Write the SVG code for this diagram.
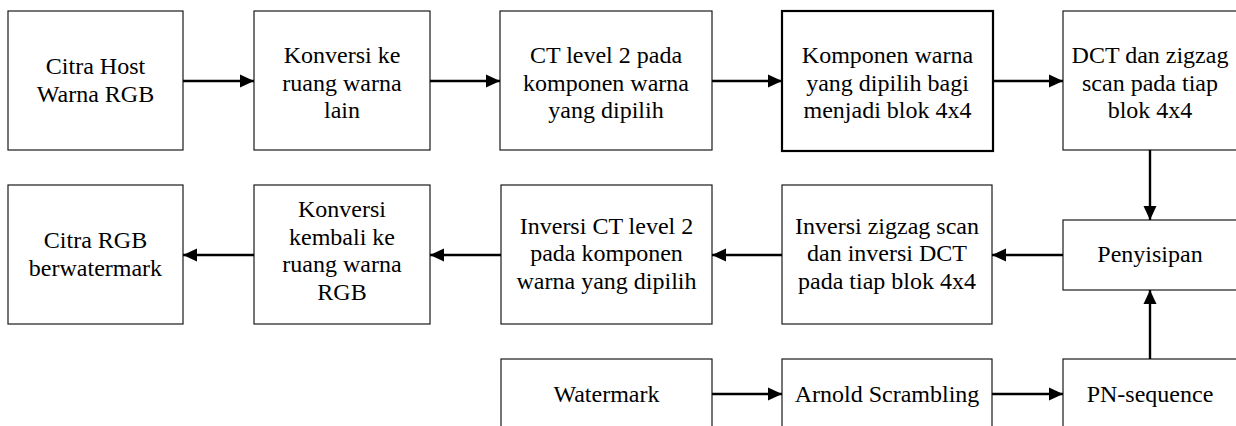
<svg xmlns="http://www.w3.org/2000/svg" width="1236" height="426" viewBox="0 0 1236 426">
  <style>
    .box { fill: #ffffff; stroke: #1a1a1a; stroke-width: 1.2; }
    .box.bold { stroke: #000000; stroke-width: 2.2; }
    .lbl { font-family: "Liberation Serif", "Times New Roman", serif; font-size: 24px; fill: #000000; text-anchor: middle; }
    .wire { fill: none; stroke: #000000; stroke-width: 2.4; marker-end: url(#head); }
  </style>
  <defs>
    <marker id="head" markerUnits="userSpaceOnUse" markerWidth="15" markerHeight="14" refX="14" refY="7" orient="auto">
      <path d="M0,0.5 L14,7 L0,13.5 Z" fill="#000000"/>
    </marker>
  </defs>
  <rect width="1236" height="426" fill="#ffffff"/>

  <!-- embedding pipeline, top row -->
  <g id="host">
    <rect class="box" x="8" y="11" width="175" height="139"/>
    <text class="lbl" x="95.5" y="73.5">Citra Host</text>
    <text class="lbl" x="95.5" y="101.5">Warna RGB</text>
  </g>
  <g id="convert">
    <rect class="box" x="254" y="11" width="176" height="139"/>
    <text class="lbl" x="342" y="63">Konversi ke</text>
    <text class="lbl" x="342" y="90.5">ruang warna</text>
    <text class="lbl" x="342" y="118">lain</text>
  </g>
  <g id="ct">
    <rect class="box" x="500" y="11" width="212" height="139"/>
    <text class="lbl" x="606" y="63">CT level 2 pada</text>
    <text class="lbl" x="606" y="90.5">komponen warna</text>
    <text class="lbl" x="606" y="118">yang dipilih</text>
  </g>
  <g id="split">
    <rect class="box bold" x="782" y="11" width="211" height="140"/>
    <text class="lbl" x="887.5" y="63">Komponen warna</text>
    <text class="lbl" x="887.5" y="90.5">yang dipilih bagi</text>
    <text class="lbl" x="887.5" y="118">menjadi blok 4x4</text>
  </g>
  <g id="dct">
    <rect class="box" x="1063" y="11" width="175" height="139"/>
    <text class="lbl" x="1150" y="63">DCT dan zigzag</text>
    <text class="lbl" x="1150" y="90.5">scan pada tiap</text>
    <text class="lbl" x="1150" y="118">blok 4x4</text>
  </g>

  <!-- reconstruction, middle row -->
  <g id="insert">
    <rect class="box" x="1063" y="220" width="175" height="70"/>
    <text class="lbl" x="1150" y="262">Penyisipan</text>
  </g>
  <g id="idct">
    <rect class="box" x="782" y="185" width="210" height="139"/>
    <text class="lbl" x="887" y="233.5">Inversi zigzag scan</text>
    <text class="lbl" x="887" y="261">dan inversi DCT</text>
    <text class="lbl" x="887" y="288.5">pada tiap blok 4x4</text>
  </g>
  <g id="ict">
    <rect class="box" x="501" y="185" width="211" height="139"/>
    <text class="lbl" x="606.5" y="233.5">Inversi CT level 2</text>
    <text class="lbl" x="606.5" y="261">pada komponen</text>
    <text class="lbl" x="606.5" y="288.5">warna yang dipilih</text>
  </g>
  <g id="back">
    <rect class="box" x="254" y="185" width="176" height="139"/>
    <text class="lbl" x="342" y="217">Konversi</text>
    <text class="lbl" x="342" y="244.5">kembali ke</text>
    <text class="lbl" x="342" y="272">ruang warna</text>
    <text class="lbl" x="342" y="299.5">RGB</text>
  </g>
  <g id="result">
    <rect class="box" x="8" y="185" width="175" height="139"/>
    <text class="lbl" x="95.5" y="248">Citra RGB</text>
    <text class="lbl" x="95.5" y="276">berwatermark</text>
  </g>

  <!-- watermark preparation, bottom row -->
  <g id="watermark">
    <rect class="box" x="501" y="359" width="211" height="140"/>
    <text class="lbl" x="606.5" y="402">Watermark</text>
  </g>
  <g id="arnold">
    <rect class="box" x="782" y="359" width="210" height="140"/>
    <text class="lbl" x="887" y="402">Arnold Scrambling</text>
  </g>
  <g id="pn">
    <rect class="box" x="1063" y="359" width="175" height="140"/>
    <text class="lbl" x="1150" y="402">PN-sequence</text>
  </g>

  <g id="connectors">
    <path class="wire" d="M183,81 H254"/>
    <path class="wire" d="M430,81 H500"/>
    <path class="wire" d="M712,81 H782"/>
    <path class="wire" d="M993,81 H1063"/>
    <path class="wire" d="M1150,150 V220"/>
    <path class="wire" d="M1063,255 H992"/>
    <path class="wire" d="M782,255 H712"/>
    <path class="wire" d="M501,255 H430"/>
    <path class="wire" d="M254,255 H183"/>
    <path class="wire" d="M712,394 H782"/>
    <path class="wire" d="M992,394 H1063"/>
    <path class="wire" d="M1150,359 V290"/>
  </g>
</svg>
